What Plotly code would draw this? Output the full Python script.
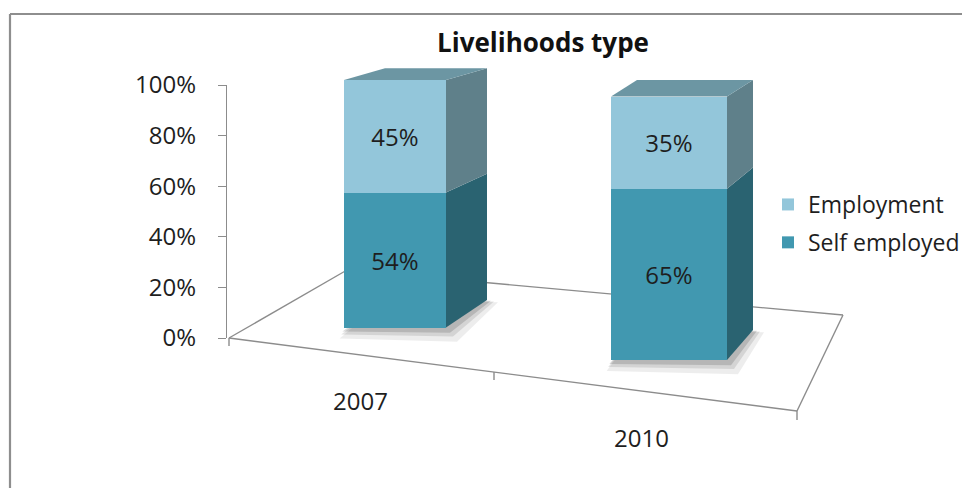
import plotly.graph_objects as go

# ---------------- data ----------------
categories = ["2007", "2010"]
self_employed = [54, 65]
employment = [45, 35]
series_names = ["Self employed", "Employment"]
tick_values = [0, 20, 40, 60, 80, 100]
tick_labels = ["0%", "20%", "40%", "60%", "80%", "100%"]
title_text = "Livelihoods type"

# ---------------- geometry / style ----------------
W, H = 962, 488
FONT = "Open Sans"
CAT_PX0, CAT_PX_STEP = 395, 274          # pixel of first category, pixels per category
bar_base_px = [327.5, 360]               # pixel row of 0% for each (perspective) bar
bar_k = [2.5, 2.635]                     # pixels per percent for each bar
bar_width_px = [102, 116]
depth_dx_px = [41, 26]
depth_dy_bottom_px = [-27.5, -30]
depth_dy_top_px = [-11.5, -16.5]
label_dx_px = [-35, -28]
label_y_px = [400, 437]

front_col = {"Self employed": "#4198B0", "Employment": "#93C6DA"}
side_col = {"Self employed": "#2A6371", "Employment": "#5F808A"}
top_col = "#6C96A3"
line_col = "#8C8C8C"
text_col = "#1E1E1E"


def xu(px):
    return px / CAT_PX_STEP


def px2paper(px, py):
    return px / W, 1 - py / H


x_range = [-CAT_PX0 / CAT_PX_STEP, (W - CAT_PX0) / CAT_PX_STEP]

fig = go.Figure()
shapes = []
yaxes = ["y2", "y3"]

# empty trace so that the value axis subplot is created
fig.add_trace(go.Scatter(x=[], y=[], xaxis="x", yaxis="y", showlegend=False,
                         hoverinfo="skip"))

for i, cat in enumerate(categories):
    ya = yaxes[i]
    k = bar_k[i]
    w = xu(bar_width_px[i])
    dx = xu(depth_dx_px[i])

    def dyu(v, i=i, k=k):
        dpx = depth_dy_bottom_px[i] + (depth_dy_top_px[i] - depth_dy_bottom_px[i]) * v / 100.0
        return -dpx / k

    xl, xr = i - w / 2, i + w / 2
    seg_vals = {"Self employed": self_employed[i], "Employment": employment[i]}
    base = 0
    for name in series_names:
        v = seg_vals[name]
        fig.add_trace(go.Bar(
            x=[i], y=[v], width=[w], yaxis=ya, xaxis="x",
            name=name, legendgroup=name, showlegend=(i == 0),
            legendrank=1 if name == "Employment" else 2,
            marker=dict(color=front_col[name], line=dict(width=0)),
            text=[f"{v}%"], textposition="inside", insidetextanchor="middle",
            textangle=0,
            textfont=dict(family=FONT, size=24, color=text_col),
            hoverinfo="skip",
        ))
        v0, v1 = base, base + v
        fig.add_trace(go.Scatter(
            x=[xr, xr + dx, xr + dx, xr, xr],
            y=[v0, v0 + dyu(v0), v1 + dyu(v1), v1, v0],
            yaxis=ya, xaxis="x", mode="lines", fill="toself",
            fillcolor=side_col[name], line=dict(width=0, color=side_col[name]),
            showlegend=False, hoverinfo="skip",
        ))
        base = v1
    T = base
    fig.add_trace(go.Scatter(
        x=[xl, xr, xr + dx, xl + dx, xl],
        y=[T, T, T + dyu(T), T + dyu(T), T],
        yaxis=ya, xaxis="x", mode="lines", fill="toself",
        fillcolor=top_col, line=dict(width=0, color=top_col),
        showlegend=False, hoverinfo="skip",
    ))
    # soft shadow on the floor
    for grow, op in [(11, 0.07), (7, 0.10), (4, 0.14)]:
        g = xu(grow)
        gy = grow / k
        pts = [(xl - g * 0.4, -gy), (xr + g, -gy * 1.3),
               (xr + dx + g, dyu(0) - gy * 0.2), (xl + dx, dyu(0))]
        path = "M " + " L ".join(f"{a},{b}" for a, b in pts) + " Z"
        shapes.append(dict(type="path", path=path, xref="x", yref=ya,
                           fillcolor=f"rgba(0,0,0,{op})", line=dict(width=0),
                           layer="below"))

# floor of the 3-D plot
FL, FR, BL, BR = (229, 338), (797, 411), (347, 270), (843, 315)
for a, b in [(FL, FR), (FL, BL), (BL, BR), (FR, BR),
             (FR, (797, 420)), ((494, 372), (494, 380)), (FL, (229, 346))]:
    x0, y0 = px2paper(*a)
    x1, y1 = px2paper(*b)
    shapes.append(dict(type="line", xref="paper", yref="paper",
                       x0=x0, y0=y0, x1=x1, y1=y1,
                       line=dict(color=line_col, width=1.4), layer="below"))

# chart area border (top and left visible)
for a, b in [((10, 14), (962, 14)), ((10, 14), (10, 488))]:
    x0, y0 = px2paper(*a)
    x1, y1 = px2paper(*b)
    shapes.append(dict(type="line", xref="paper", yref="paper",
                       x0=x0, y0=y0, x1=x1, y1=y1,
                       line=dict(color="#8E8E8E", width=2.2)))

annotations = []
for i, cat in enumerate(categories):
    ax, ay = px2paper(0, label_y_px[i])
    annotations.append(dict(text=cat, x=i + xu(label_dx_px[i]), xref="x",
                            y=ay, yref="paper", showarrow=False,
                            xanchor="center", yanchor="middle",
                            font=dict(family=FONT, size=24, color=text_col)))


def yrange(i):
    return [(bar_base_px[i] - H) / bar_k[i], bar_base_px[i] / bar_k[i]]


fig.update_layout(
    width=W, height=H,
    margin=dict(l=0, r=0, t=0, b=0, autoexpand=False),
    paper_bgcolor="white", plot_bgcolor="rgba(0,0,0,0)",
    barmode="stack",
    title=dict(text=title_text, x=543 / W, xanchor="center",
               y=1 - 43 / H, yanchor="middle",
               font=dict(family=FONT, size=26, color="#111111", weight="bold")),
    xaxis=dict(domain=[0, 1], range=x_range, visible=False, fixedrange=True),
    yaxis=dict(domain=[1 - 338 / H, 1 - 85 / H], range=[0, 100],
               anchor="free", position=226 / W, side="left",
               tickvals=tick_values, ticktext=tick_labels,
               showline=True, linecolor=line_col, linewidth=1.4,
               ticks="outside", ticklen=8, tickcolor=line_col, tickwidth=1.4,
               ticklabelstandoff=17, showgrid=False, zeroline=False,
               automargin=False,
               tickfont=dict(family=FONT, size=24, color=text_col)),
    yaxis2=dict(domain=[0, 1], range=yrange(0), visible=False, anchor="x"),
    yaxis3=dict(range=yrange(1), visible=False, anchor="x", overlaying="y2"),
    legend=dict(x=768 / W, xanchor="left", y=1 - 183 / H, yanchor="top",
                traceorder="grouped", tracegroupgap=5,
                font=dict(family=FONT, size=23, color=text_col),
                bgcolor="rgba(0,0,0,0)"),
    shapes=shapes, annotations=annotations,
    showlegend=True,
)

fig.write_html("out.html", config={"displayModeBar": False},
               post_script="document.body.style.margin='0';document.body.style.padding='0';")
